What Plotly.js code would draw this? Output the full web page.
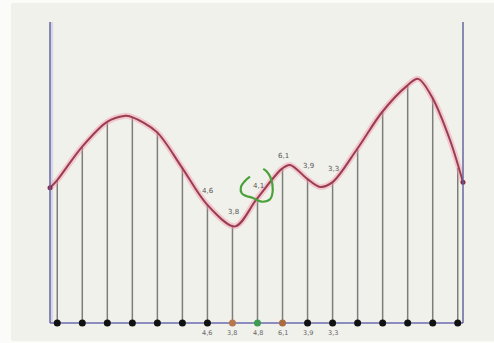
<!DOCTYPE html>
<html>
<head>
<meta charset="utf-8">
<script src="https://cdn.plot.ly/plotly-3.0.1.min.js"></script>
<style>
  html, body { margin: 0; padding: 0; background: #fbfbf9; width: 494px; height: 343px; overflow: hidden; }
  #chart { position: absolute; left: 11px; top: 3px; width: 483px; height: 338px; }
</style>
</head>
<body>
<div id="chart"></div>
<script>
// Stem positions (index) and heights (curve value at each stem)
const stemX = [0,1,2,3,4,5,6,7,8,9,10,11,12,13,14,15,16];
const stemY = [47.5,58.5,66.8,68.4,63.5,51.8,39.5,32.6,41.2,51.2,47.8,46.8,57.8,70.1,78.7,75.1,51.5];
// Curve knots (x in stem-index units)
const curveX = [-0.29,0,0.99,1.99,2.67,2.99,3.97,4.97,5.97,7.10,7.97,8.97,9.30,10.0,10.5,11.0,11.98,12.98,13.96,14.42,14.97,15.69,16.21];
const curveY = [44.9,47.5,58.5,66.8,68.8,68.4,63.5,51.8,39.5,32.1,41.2,51.2,52.5,47.8,45.2,46.8,57.8,70.1,78.7,81.1,75.1,60.8,46.8];
// Labels
const topLabelIdx = [6,7,8,9,10,11];
const topLabels = ["4,6","3,8","4,1","6,1","3,9","3,3"];
const bottomLabels = ["4,6","3,8","4,8","6,1","3,9","3,3"];
// Dot colours
const dotColors = stemX.map(i => i === 7 ? "#b5784e" : i === 8 ? "#3f9a52" : i === 9 ? "#ab6b40" : "#111111");
// Hand-drawn green loop around "4,1" (data coords)
const loopX = [7.70,7.50,7.34,7.37,7.55,7.80,8.17,8.50,8.61,8.53,8.37,8.23];
const loopY = [48.6,47.2,45.3,43.1,42.2,41.6,40.3,41.1,44.2,48.1,50.3,51.2];

const endX = [curveX[0], curveX[curveX.length - 1]];
const endY = [curveY[0], curveY[curveY.length - 1]];

const stemsX = [], stemsY = [];
stemX.forEach((x, i) => { stemsX.push(x, x, null); stemsY.push(0, stemY[i], null); });

const traces = [
  { x: stemsX, y: stemsY, mode: "lines", line: { color: "#7d7d7a", width: 1.5 }, hoverinfo: "skip" },
  { x: curveX, y: curveY, mode: "lines", line: { color: "rgba(240,150,170,0.45)", width: 6, shape: "spline", smoothing: 0.9 }, hoverinfo: "skip" },
  { x: curveX, y: curveY, mode: "lines", line: { color: "#9c3c50", width: 2, shape: "spline", smoothing: 0.9 }, hoverinfo: "skip" },
  { x: endX, y: endY, mode: "markers", marker: { color: "#8a2a48", size: 5 }, hoverinfo: "skip", cliponaxis: false },
  { x: stemX, y: stemX.map(() => 0), mode: "markers", marker: { color: dotColors, size: 7 }, hoverinfo: "skip", cliponaxis: false },
  { x: loopX, y: loopY, mode: "lines", line: { color: "#4aa03a", width: 2.2, shape: "spline", smoothing: 1 }, hoverinfo: "skip" }
];

const annotations = [];
topLabelIdx.forEach((idx, k) => {
  annotations.push({ x: stemX[idx], y: stemY[idx], xref: "x", yref: "y", text: topLabels[k], showarrow: false, yshift: 13, xshift: 1,
    font: { family: "DejaVu Sans", size: 7, color: "#555555" } });
  annotations.push({ x: stemX[idx], y: 0, xref: "x", yref: "y", text: bottomLabels[k], showarrow: false, yshift: -10,
    font: { family: "DejaVu Sans", size: 6.5, color: "#666666" } });
});

const axisColor = "#5e5e98";
const shapes = [
  { type: "line", xref: "paper", yref: "paper", x0: 0.004, x1: 0.004, y0: 0, y1: 1, line: { color: "rgba(190,190,235,0.5)", width: 3 }, layer: "below" },
  { type: "line", xref: "paper", yref: "paper", x0: 0, x1: 0, y0: 0, y1: 1, line: { color: axisColor, width: 1.4 } },
  { type: "line", xref: "paper", yref: "paper", x0: 1, x1: 1, y0: 0, y1: 1, line: { color: axisColor, width: 1.4 } },
  { type: "line", xref: "paper", yref: "paper", x0: 0, x1: 1, y0: 0, y1: 0, line: { color: "#6a6ab0", width: 1.4 }, layer: "below" }
];

const layout = {
  width: 483, height: 338,
  margin: { l: 39, r: 31, t: 19, b: 18, pad: 0 },
  paper_bgcolor: "#f1f1ec", plot_bgcolor: "#f1f1ec",
  showlegend: false,
  xaxis: { range: [-0.29, 16.21], showgrid: false, zeroline: false, showticklabels: false, ticks: "", showline: false },
  yaxis: { range: [0, 100], showgrid: false, zeroline: false, showticklabels: false, ticks: "", showline: false },
  annotations: annotations,
  shapes: shapes
};

Plotly.newPlot("chart", traces, layout, { staticPlot: true, displayModeBar: false });
</script>
</body>
</html>
